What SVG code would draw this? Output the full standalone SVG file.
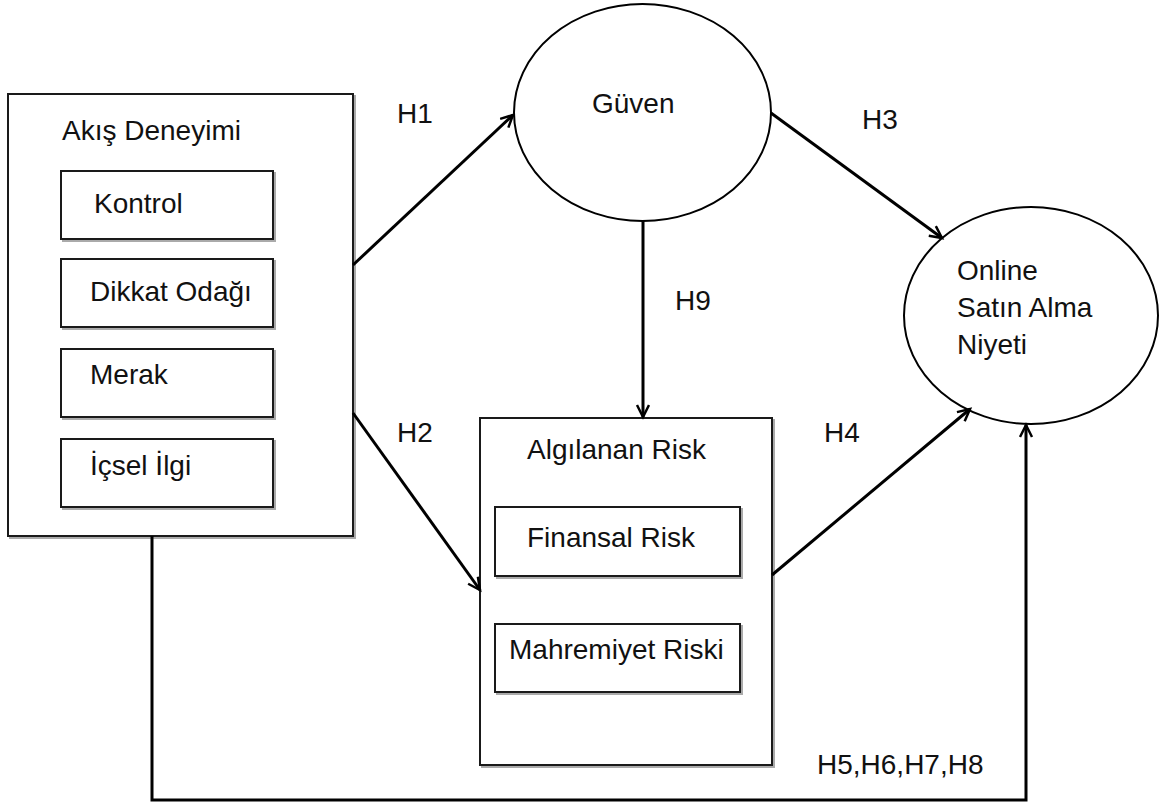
<svg xmlns="http://www.w3.org/2000/svg" width="1159" height="805" viewBox="0 0 1159 805">
<defs>
<marker id="arr" markerUnits="userSpaceOnUse" markerWidth="16" markerHeight="16" refX="13" refY="7" orient="auto">
<path d="M1,1 L13,7 L1,13" fill="none" stroke="#000" stroke-width="2.5"/>
</marker>
</defs>
<style>
.box{fill:#fff;stroke:#1a1a1a;stroke-width:2}
.sh{fill:none;stroke:#aaa;stroke-width:2}
.ell{fill:#fff;stroke:#000;stroke-width:2}
.t{font-family:"Liberation Sans",Arial,sans-serif;font-size:28px;fill:#111}
.c{fill:none;stroke:#000;stroke-width:3}
</style>
<rect width="1159" height="805" fill="#fff"/>
<g id="akis">
<rect class="sh" x="10" y="96" width="345" height="442"/>
<rect class="box" x="8" y="94" width="345" height="442"/>
<text class="t" x="62" y="140">Akış Deneyimi</text>
<g id="kontrol">
<rect class="sh" x="63" y="173" width="212" height="68"/>
<rect class="box" x="61" y="171" width="212" height="68"/>
<text class="t" x="94" y="213">Kontrol</text>
</g>
<g id="dikkat">
<rect class="sh" x="63" y="261" width="212" height="68"/>
<rect class="box" x="61" y="259" width="212" height="68"/>
<text class="t" x="90" y="301">Dikkat Odağı</text>
</g>
<g id="merak">
<rect class="sh" x="63" y="351" width="212" height="68"/>
<rect class="box" x="61" y="349" width="212" height="68"/>
<text class="t" x="90" y="384">Merak</text>
</g>
<g id="icsel">
<rect class="sh" x="63" y="441" width="212" height="68"/>
<rect class="box" x="61" y="439" width="212" height="68"/>
<text class="t" x="90" y="475">İçsel İlgi</text>
</g>
</g>
<g id="guven">
<ellipse class="ell" cx="642.5" cy="112.5" rx="128.5" ry="108.5"/>
<text class="t" x="592" y="113">Güven</text>
</g>
<g id="risk">
<rect class="sh" x="482" y="420" width="292" height="347"/>
<rect class="box" x="480" y="418" width="292" height="347"/>
<text class="t" x="527" y="459">Algılanan Risk</text>
<g id="finansal">
<rect class="sh" x="497" y="509" width="245" height="69"/>
<rect class="box" x="495" y="507" width="245" height="69"/>
<text class="t" x="527" y="547">Finansal Risk</text>
</g>
<g id="mahremiyet">
<rect class="sh" x="497" y="626" width="245" height="68"/>
<rect class="box" x="495" y="624" width="245" height="68"/>
<text class="t" x="509" y="659">Mahremiyet Riski</text>
</g>
</g>
<g id="online">
<ellipse class="ell" cx="1031" cy="315.5" rx="127" ry="108.5"/>
<text class="t" x="957" y="280">Online</text>
<text class="t" x="957" y="317">Satın Alma</text>
<text class="t" x="957" y="354">Niyeti</text>
</g>
<g id="connectors">
<line class="c" x1="353" y1="265" x2="513" y2="115" marker-end="url(#arr)"/>
<line class="c" x1="353" y1="413" x2="480" y2="590" marker-end="url(#arr)"/>
<line class="c" x1="771" y1="113" x2="942" y2="238" marker-end="url(#arr)"/>
<line class="c" x1="643" y1="221" x2="643" y2="417" marker-end="url(#arr)"/>
<line class="c" x1="772" y1="575" x2="970" y2="409" marker-end="url(#arr)"/>
<path class="c" d="M152,536 L152,800 L1026,800 L1026,425" marker-end="url(#arr)"/>
</g>
<g id="labels">
<text class="t" x="397" y="123">H1</text>
<text class="t" x="397" y="442">H2</text>
<text class="t" x="862" y="129">H3</text>
<text class="t" x="824" y="442">H4</text>
<text class="t" x="675" y="310">H9</text>
<text class="t" x="817" y="774">H5,H6,H7,H8</text>
</g>
</svg>
